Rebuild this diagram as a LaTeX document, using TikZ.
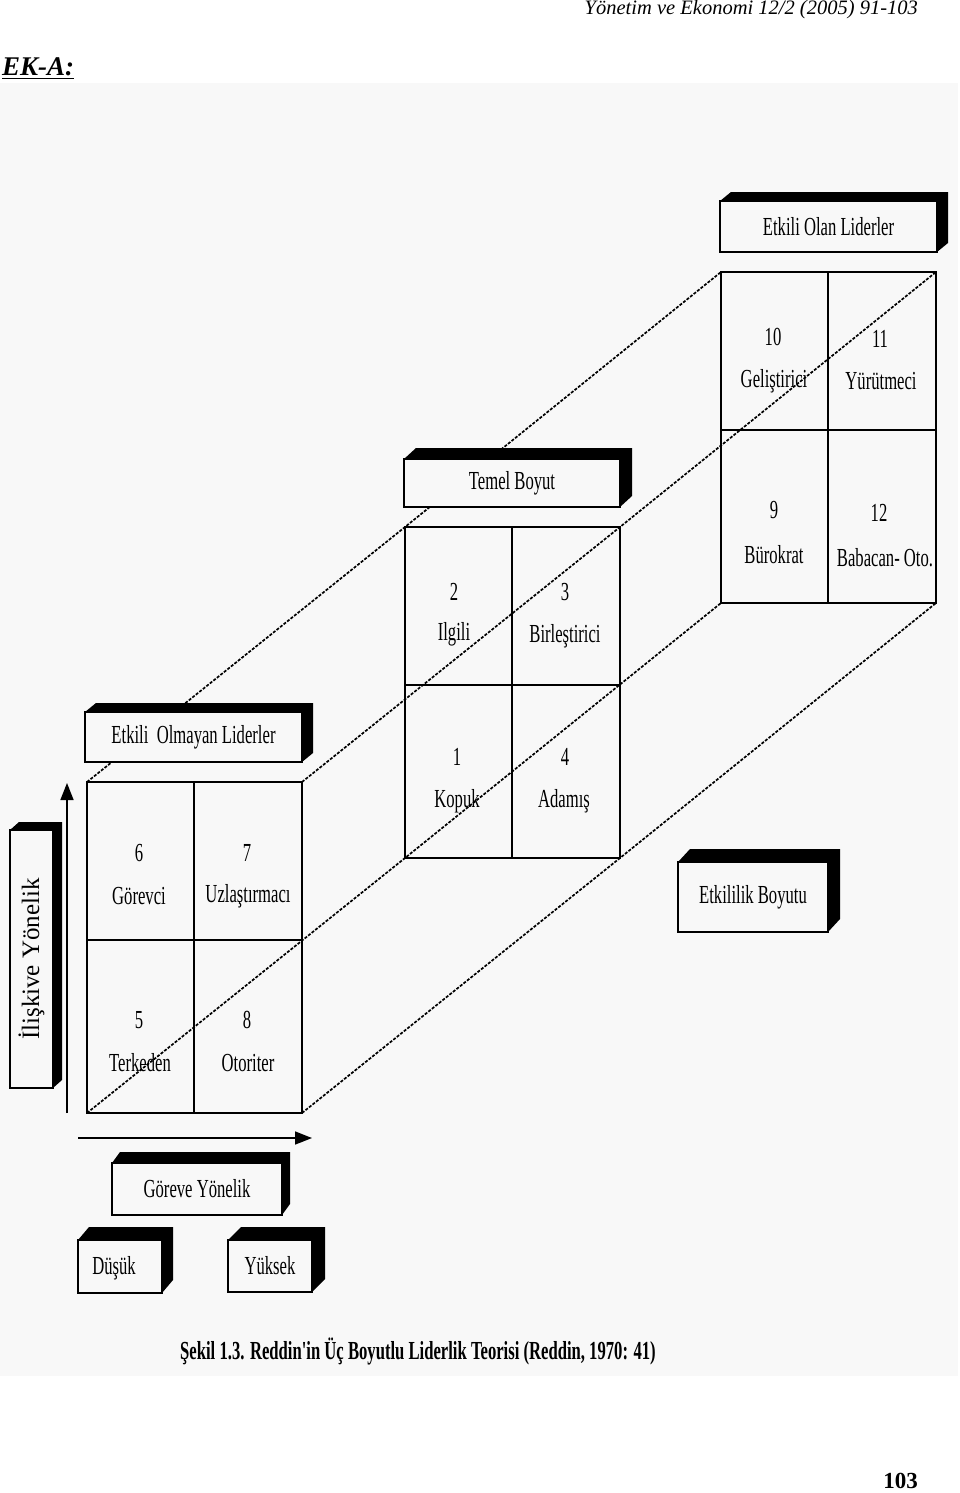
\documentclass[tikz,border=0pt]{standalone}
\usepackage{fontspec}
\setmainfont{Liberation Serif}
\newfontfamily\cond[FakeStretch=0.64]{Liberation Serif}
\usetikzlibrary{arrows.meta,calc}
\definecolor{bgc}{HTML}{F8F8F8}
\newcommand\boxshade[3]{\fill[black] (#1.north west) -- ++(#2,-#3) -| ($(#1.south east)+(#2,-#3)$) -- (#1.south east) -- (#1.north east) -- cycle;}
\tikzset{
 gridbox/.style={draw, line width=2pt, minimum width=215pt, minimum height=331pt, inner sep=0pt, outer sep=0pt, anchor=north west},
 depth/.style={line width=1.7pt, dash pattern=on 3pt off 1.5pt},
 labface/.style={draw, line width=2pt, fill=bgc, inner sep=0pt, outer sep=0pt, anchor=north west, font=\cond\fontsize{26}{30}\selectfont},
 celltxt/.style={font=\cond\fontsize{26}{30}\selectfont, inner sep=0pt},
 axis/.style={line width=1.6pt, -{Triangle[length=17pt,width=13pt]}},
 divider/.style={line width=2pt},
}
\begin{document}
\begin{tikzpicture}[x=1pt,y=-1pt]
\useasboundingbox (0,0) rectangle (960,1493);
\fill[bgc] (0,83) rectangle (958,1376);
% header
\node[anchor=base east, font=\itshape\fontsize{20.5}{24}\selectfont, inner sep=0pt] (hdr) at (918,15) {Yönetim ve Ekonomi 12/2 (2005) 91-103};
\node[anchor=base west, font=\bfseries\itshape\fontsize{27}{30}\selectfont, inner sep=0pt] (eka) at (2,76) {\underline{EK-A:}};
\node[anchor=base east, font=\bfseries\fontsize{23}{26}\selectfont, inner sep=0pt] (pg) at (918,1488) {103};
% grid boxes
\node[gridbox] (F) at (87,782) {};
\node[gridbox] (M) at (405,527) {};
\node[gridbox] (B) at (721,272) {};
% depth lines
\draw[depth] (F.north west) -- (M.north west) -- (B.north west);
\draw[depth] (F.north east) -- (M.north east) -- (B.north east);
\draw[depth] (F.south east) -- (M.south east) -- (B.south east);
\draw[depth] (F.south west) -- (M.south west) -- (B.south west);
% dividers
\foreach \b in {F,M,B}{
  \draw[divider] ($(\b.north west)+(107,0)$) -- ($(\b.south west)+(107,0)$);
  \draw[divider] ($(\b.north west)+(0,158)$) -- ($(\b.north east)+(0,158)$);
}
% cell texts front
\node[celltxt] (c6) at (139,853) {6};
\node[celltxt] (n6) at (139,896) {Görevci};
\node[celltxt] (c7) at (247,853) {7};
\node[celltxt] (n7) at (248,896) {Uzlaştırmacı};
\node[celltxt] (c5) at (139,1020) {5};
\node[celltxt] (n5) at (140,1063) {Terkeden};
\node[celltxt] (c8) at (247,1020) {8};
\node[celltxt] (n8) at (248,1063) {Otoriter};
% middle
\node[celltxt] (c2) at (454,592) {2};
\node[celltxt] (n2) at (454,634) {Ilgili};
\node[celltxt] (c3) at (565,592) {3};
\node[celltxt] (n3) at (565,636) {Birleştirici};
\node[celltxt] (c1) at (457,757) {1};
\node[celltxt] (n1) at (457,801) {Kopuk};
\node[celltxt] (c4) at (565,757) {4};
\node[celltxt] (n4) at (564,801) {Adamış};
% back
\node[celltxt] (c10) at (773,337) {10};
\node[celltxt] (n10) at (774,381) {Geliştirici};
\node[celltxt] (c11) at (880,339) {11};
\node[celltxt] (n11) at (881,381) {Yürütmeci};
\node[celltxt] (c9) at (774,510) {9};
\node[celltxt] (n9) at (774,555) {Bürokrat};
\node[celltxt] (c12) at (879,513) {12};
\node[celltxt] (n12) at (885,558) {Babacan- Oto.};
% label boxes
\node[labface, minimum width=217pt, minimum height=51pt] (L1) at (720,201) {Etkili Olan Liderler};
\boxshade{L1}{11}{9}
\node[labface, minimum width=216pt, minimum height=48pt] (L2) at (404,459) {Temel Boyut};
\boxshade{L2}{12}{11}
\node[labface, minimum width=217pt, minimum height=50pt] (L3) at (85,712) {Etkili\ \ Olmayan Liderler};
\boxshade{L3}{11}{9}
\node[labface, minimum width=43pt, minimum height=258pt] (L4) at (10,830) {};
\node[rotate=90, font=\fontsize{25}{28}\selectfont, inner sep=0pt] (L4t) at (L4.center) {İlişkive Yönelik};
\boxshade{L4}{9}{8}
\node[labface, minimum width=150pt, minimum height=70pt] (L5) at (678,862) {Etkililik Boyutu};
\boxshade{L5}{12}{13}
\node[labface, minimum width=170pt, minimum height=52pt] (L6) at (112,1163) {Göreve Yönelik};
\boxshade{L6}{8}{11}
\node[labface, minimum width=84pt, minimum height=53pt] (L7) at (78,1240) {};
\node[celltxt] (L7t) at (114,1268) {Düşük};
\boxshade{L7}{11}{13}
\node[labface, minimum width=84pt, minimum height=52pt] (L8) at (228,1240) {Yüksek};
\boxshade{L8}{13}{13}
% axes
\coordinate (va) at (67,1113);
\coordinate (vb) at (67,783);
\draw[axis] (va) -- (vb);
\coordinate (ha) at (78,1138);
\coordinate (hb) at (312,1138);
\draw[axis] (ha) -- (hb);
% caption
\node[font=\cond\bfseries\fontsize{26}{30}\selectfont, inner sep=0pt] (cap) at (418,1351) {Şekil 1.3. Reddin'in Üç Boyutlu Liderlik Teorisi (Reddin, 1970: 41)};
\end{tikzpicture}
\end{document}
